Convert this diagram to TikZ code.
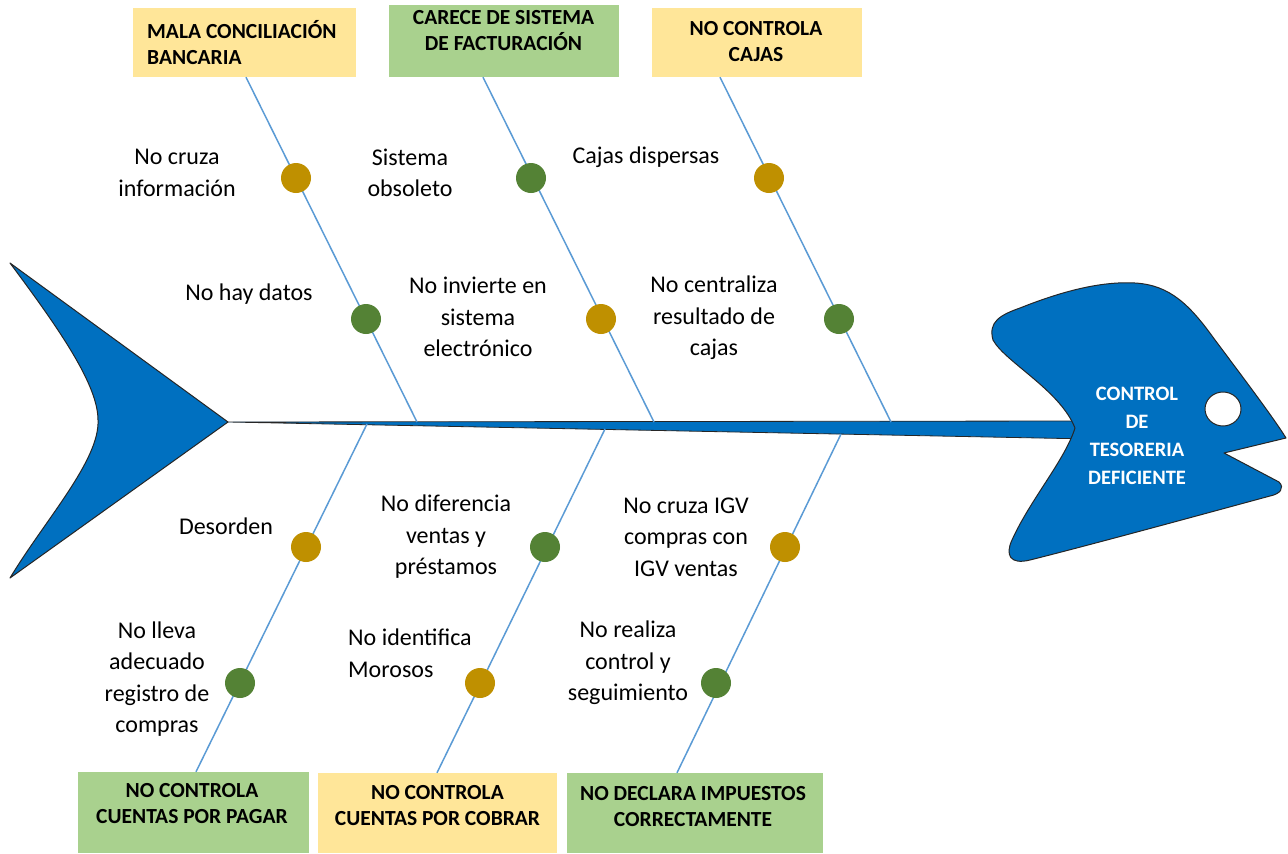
\documentclass[tikz,border=0pt]{standalone}
\usepackage{fontspec}
\setmainfont{Carlito}
\usetikzlibrary{calc,shapes.geometric}
\definecolor{fishblue}{HTML}{0070C0}
\definecolor{bonecol}{HTML}{5B9BD5}
\definecolor{dotgold}{HTML}{BF9000}
\definecolor{dotgreen}{HTML}{548235}
\definecolor{boxyellow}{HTML}{FFE699}
\definecolor{boxgreen}{HTML}{A9D18E}
\definecolor{outline}{HTML}{262626}
\begin{document}
\begin{tikzpicture}[x=1pt,y=-1pt,
  causebox/.style={rectangle, draw=none, inner sep=0pt},
  boxtext/.style={inner sep=0pt, align=center, font=\fontsize{21.5}{26}\selectfont\bfseries},
  cause/.style={inner sep=0pt, align=center, font=\fontsize{24}{31.5}\selectfont},
  bone/.style={draw=bonecol, line width=1.5pt},
  golddot/.style={circle, fill=dotgold, minimum size=30pt, inner sep=0pt},
  greendot/.style={circle, fill=dotgreen, minimum size=30pt, inner sep=0pt},
  fishbody/.style={fill=fishblue, draw=outline, line width=1pt, line join=round}]
\useasboundingbox (0,0) rectangle (1288,854);
\fill[white] (0,0) rectangle (1288,854);

% cause category boxes, top row
\node[causebox, fill=boxyellow, minimum width=223pt, minimum height=69pt] (b1) at (244.5,42.5) {};
\node[causebox, fill=boxgreen, minimum width=230pt, minimum height=72pt] (b2) at (504,41) {};
\node[causebox, fill=boxyellow, minimum width=210pt, minimum height=69pt] (b3) at (757,42.5) {};
% cause category boxes, bottom row
\node[causebox, fill=boxgreen, minimum width=231pt, minimum height=81pt] (b4) at (193.5,812.5) {};
\node[causebox, fill=boxyellow, minimum width=239pt, minimum height=80pt] (b5) at (437.5,813) {};
\node[causebox, fill=boxgreen, minimum width=256pt, minimum height=80pt] (b6) at (695,813) {};

\node[boxtext, align=left, anchor=west] (b1t) at (147,42.5) {MALA CONCILIACIÓN\\BANCARIA};
\node[boxtext] (b2t) at (503.5,30.5) {CARECE DE SISTEMA\\DE FACTURACIÓN};
\node[boxtext] (b3t) at (756,41.5) {NO CONTROLA\\CAJAS};
\node[boxtext] (b4t) at (192,803.5) {NO CONTROLA\\CUENTAS POR PAGAR};
\node[boxtext] (b5t) at (437.5,805.5) {NO CONTROLA\\CUENTAS POR COBRAR};
\node[boxtext] (b6t) at (693,807) {NO DECLARA IMPUESTOS\\CORRECTAMENTE};

% bone end points on the boxes and on the spine
\coordinate (t1) at (b1.south -| 246,0);
\coordinate (t2) at (b2.south -| 483,0);
\coordinate (t3) at (b3.south -| 720,0);
\coordinate (t4) at (b4.north -| 196,0);
\coordinate (t5) at (b5.north -| 437,0);
\coordinate (t6) at (b6.north -| 677,0);
\coordinate (s1) at (417,422);
\coordinate (s2) at (654,422);
\coordinate (s3) at (891,422);
\coordinate (s4) at (367,424);
\coordinate (s5) at (605,429);
\coordinate (s6) at (841,434);

% tail fin
\path[fishbody] (10,263) -- (228,422) -- (10,578)
  .. controls (45,520) and (100,460) .. (98,420)
  .. controls (98,385) and (60,330) .. (10,263) -- cycle;

% spine
\path[fishbody, line width=0.8pt] (228,422) -- (1090,421) -- (1090,439) -- cycle;

% bones
\draw[bone] (t1) -- (s1);
\draw[bone] (t2) -- (s2);
\draw[bone] (t3) -- (s3);
\draw[bone] (t4) -- (s4);
\draw[bone] (t5) -- (s5);
\draw[bone] (t6) -- (s6);

% head
\path[fishbody] (1075,428)
  .. controls (1060,390) and (1005,362) .. (993,340)
  .. controls (988,322) and (1000,315) .. (1020,308)
  .. controls (1060,292) and (1100,281) .. (1135,283)
  .. controls (1170,285) and (1190,305) .. (1215,340)
  .. controls (1245,380) and (1275,420) .. (1286,438)
  -- (1224,453) -- (1279,482)
  .. controls (1285,488) and (1280,494) .. (1270,496)
  .. controls (1200,515) and (1090,545) .. (1030,560)
  .. controls (1010,565) and (1005,555) .. (1012,540)
  .. controls (1030,500) and (1065,460) .. (1075,428) -- cycle;
\node[ellipse, draw=outline, fill=white, line width=1pt, minimum width=36pt, minimum height=34pt, inner sep=0pt] (eye) at (1223,409) {};
\node[inner sep=0pt, align=center, text=white, font=\fontsize{20.5}{28}\selectfont\bfseries] (effect) at (1137,436) {CONTROL\\DE\\TESORERIA\\DEFICIENTE};

% dots on the bones
\node[golddot] (d1a) at (296,178) {};
\node[greendot] (d1b) at (366,319) {};
\node[greendot] (d2a) at (531,178) {};
\node[golddot] (d2b) at (601,319) {};
\node[golddot] (d3a) at (769,178) {};
\node[greendot] (d3b) at (839,319) {};
\node[golddot] (d4a) at (306,547) {};
\node[greendot] (d4b) at (240,683) {};
\node[greendot] (d5a) at (545,547) {};
\node[golddot] (d5b) at (480,683) {};
\node[golddot] (d6a) at (785,547) {};
\node[greendot] (d6b) at (716,683) {};

% causes
\node[cause] (c1a) at (177,173) {No cruza\\información};
\node[cause] (c2a) at (410,173) {Sistema\\obsoleto};
\node[cause] (c3a) at (646,157) {Cajas dispersas};
\node[cause] (c1b) at (249,294) {No hay datos};
\node[cause] (c2b) at (478,317) {No invierte en\\sistema\\electrónico};
\node[cause] (c3b) at (714,318) {No centraliza\\resultado de\\cajas};
\node[cause] (c4a) at (226,526) {Desorden};
\node[cause] (c5a) at (446,537) {No diferencia\\ventas y\\préstamos};
\node[cause] (c6a) at (686,537) {No cruza IGV\\compras con\\IGV ventas};
\node[cause] (c4b) at (157,679) {No lleva\\adecuado\\registro de\\compras};
\node[cause, align=left, anchor=west] (c5b) at (348,653) {No identifica\\Morosos};
\node[cause] (c6b) at (628,663) {No realiza\\control y\\seguimiento};
\end{tikzpicture}
\end{document}
